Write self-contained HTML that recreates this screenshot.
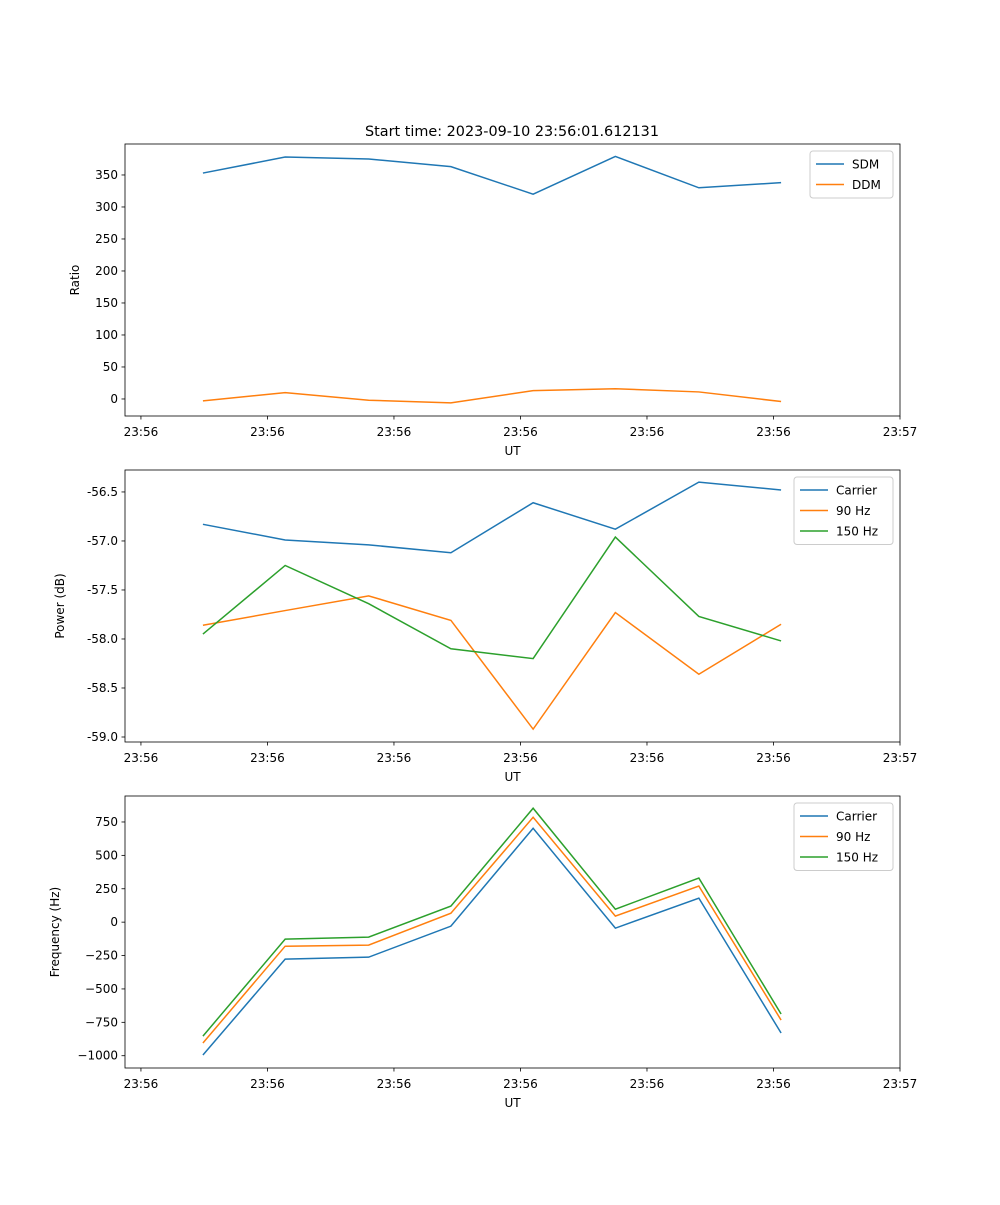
<!DOCTYPE html>
<html><head><meta charset="utf-8"><style>
body{margin:0;background:#fff}
svg text{font-family:"DejaVu Sans","Liberation Sans",sans-serif;font-size:12px;fill:#000}
</style></head><body>
<svg id="chart" width="1000" height="1200"></svg>
<script>
const xTickLabels=["23:56","23:56","23:56","23:56","23:56","23:56","23:57"];
const xTicks=[0,1,2,3,4,5,6];
const xData=[0.49,1.14,1.80,2.45,3.10,3.75,4.41,5.06];
const ratioTicks=[0,50,100,150,200,250,300,350];
const sdm=[353,378,375,363,320,379,330,338];
const ddm=[-3,10,-2,-6,13,16,11,-4];
const powerTicks=[-59.0,-58.5,-58.0,-57.5,-57.0,-56.5];
const powCarrier=[-56.83,-56.99,-57.04,-57.12,-56.61,-56.88,-56.40,-56.48];
const pow90=[-57.86,-57.71,-57.56,-57.81,-58.92,-57.73,-58.36,-57.85];
const pow150=[-57.95,-57.25,-57.64,-58.10,-58.20,-56.96,-57.77,-58.02];
const freqTicks=[-1000,-750,-500,-250,0,250,500,750];
const freqCarrier=[-995,-277,-262,-30,703,-45,180,-830];
const freq90=[-905,-180,-172,67,785,45,270,-733];
const freq150=[-853,-127,-112,120,853,97,330,-688];

const NS="http://www.w3.org/2000/svg";
const svg=document.getElementById('chart');
function mk(tag,attrs,parent){const e=document.createElementNS(NS,tag);for(const k in attrs)e.setAttribute(k,attrs[k]);(parent||svg).appendChild(e);return e;}
const L=125,R=900,xmin=-0.126,xmax=6.0;
const xs=v=>L+(v-xmin)/(xmax-xmin)*(R-L);
const C=['#1f77b4','#ff7f0e','#2ca02c'];

function panel(name,top,bottom,ymin,ymax,yticks,fmt,ylabel,ylabelX,series,names,legX,legW){
  const g=mk('g',{});
  
  
  const ys=v=>bottom-(v-ymin)/(ymax-ymin)*(bottom-top);
  series.forEach((s,i)=>{
    const p=mk('polyline',{points:s.map((v,j)=>xs(xData[j])+','+ys(v)).join(' '),fill:'none',stroke:C[i],'stroke-width':1.5},g);
    
    
  });
  const frame=mk('rect',{x:L,y:top,width:R-L,height:bottom-top,fill:'none',stroke:'#000','stroke-width':0.8},g);
  
  
  xTicks.forEach((t,i)=>{
    const x=xs(t);
    mk('line',{x1:x,x2:x,y1:bottom,y2:bottom+3.5,stroke:'#000','stroke-width':0.8},g);
    const tx=mk('text',{x:x,y:bottom+20,'text-anchor':'middle'},g);
    tx.textContent=xTickLabels[i];
    
    
  });
  yticks.forEach(t=>{
    const y=ys(t);
    mk('line',{x1:L,x2:L-3.5,y1:y,y2:y,stroke:'#000','stroke-width':0.8},g);
    const tx=mk('text',{x:L-7,y:y+4,'text-anchor':'end'},g);
    tx.textContent=fmt(t);
    
    
  });
  const xl=mk('text',{x:(L+R)/2,y:bottom+39,'text-anchor':'middle'},g);
  xl.textContent='UT';
  
  
  const cy=(top+bottom)/2;
  const yl=mk('text',{x:0,y:0,'text-anchor':'middle',transform:`translate(${ylabelX},${cy}) rotate(-90)`},g);
  yl.textContent=ylabel;
  
  
  const lh=names.length*20.5+6;
  const lg=mk('g',{},g);
  
  
  mk('rect',{x:legX,y:top+7,width:legW,height:lh,rx:3,fill:'#fff',stroke:'#ccc','stroke-width':1},lg);
  names.forEach((n,i)=>{
    const y=top+7+13+i*20.5;
    mk('line',{x1:legX+6,x2:legX+34,y1:y,y2:y,stroke:C[i],'stroke-width':1.5},lg);
    const t=mk('text',{x:legX+42,y:y+4.5},lg);
    t.textContent=n;
    
    
  });
}
const title=mk('text',{x:512,y:136,'text-anchor':'middle'});
title.setAttribute('style','font-size:14.4px');
title.textContent='Start time: 2023-09-10 23:56:01.612131';



panel('ratio',144,416,-26.6,398.4,ratioTicks,v=>String(v),'Ratio',79,[sdm,ddm],['SDM','DDM'],810,83);
panel('power',470,742,-59.051,-56.276,powerTicks,v=>v.toFixed(1),'Power (dB)',64,[powCarrier,pow90,pow150],['Carrier','90 Hz','150 Hz'],794,99);
panel('freq',796,1068,-1092,944.5,freqTicks,v=>String(v).replace('-','\u2212'),'Frequency (Hz)',59,[freqCarrier,freq90,freq150],['Carrier','90 Hz','150 Hz'],794,99);
</script>
</body></html>
